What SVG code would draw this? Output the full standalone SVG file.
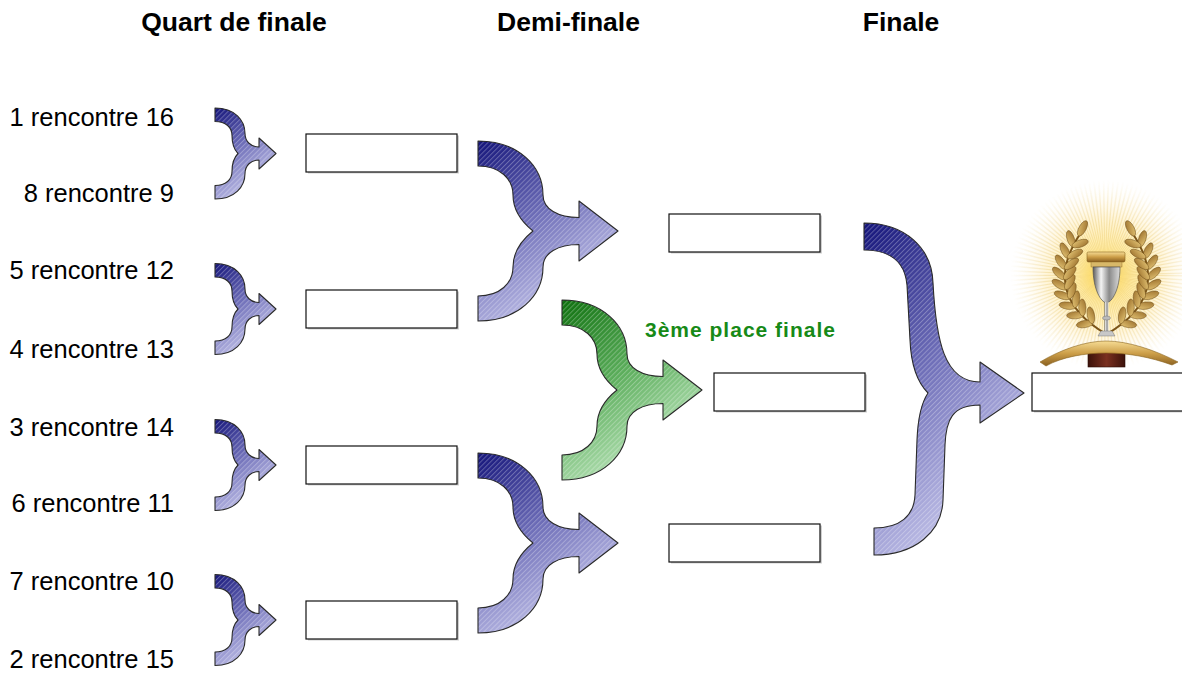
<svg xmlns="http://www.w3.org/2000/svg" xmlns:xlink="http://www.w3.org/1999/xlink" width="1182" height="673" viewBox="0 0 1182 673">
<style>
.title{font-family:"Liberation Sans",Arial,sans-serif;font-size:26.5px;font-weight:bold;fill:#000}
.lbl{font-family:"Liberation Sans",Arial,sans-serif;font-size:25.5px;fill:#000}
.third{font-family:"Liberation Sans",Arial,sans-serif;font-size:21px;font-weight:bold;fill:#178a17;letter-spacing:1px}
.box{fill:#fff;stroke:#111;stroke-width:1.2}
.shadow{fill:#cfcfcf}
.hatch{fill:url(#hatch);stroke:#2a2a2a;stroke-width:1.1;stroke-linejoin:round}
.leaf{fill:url(#leafG);stroke:#6e4c16;stroke-width:0.5}
</style>
<defs>
<linearGradient id="gBlue" x1="0" y1="0" x2="0.5" y2="1">
<stop offset="0" stop-color="#14147a"/>
<stop offset="0.5" stop-color="#6e6eb8"/>
<stop offset="1" stop-color="#c8c8ec"/>
</linearGradient>
<linearGradient id="gGreen" x1="0" y1="0" x2="0.5" y2="1">
<stop offset="0" stop-color="#0e700e"/>
<stop offset="0.5" stop-color="#5cae5c"/>
<stop offset="1" stop-color="#c2e8c2"/>
</linearGradient>
<pattern id="hatch" width="3.5" height="3.5" patternUnits="userSpaceOnUse" patternTransform="rotate(45)">
<line x1="0.5" y1="0" x2="0.5" y2="3.5" stroke="#ffffff" stroke-opacity="0.28" stroke-width="1"/>
</pattern>
<radialGradient id="glowG" cx="0.5" cy="0.5" r="0.5">
<stop offset="0" stop-color="#ffd84a"/>
<stop offset="0.3" stop-color="#ffeaa0"/>
<stop offset="0.65" stop-color="#fff6dc"/>
<stop offset="1" stop-color="#ffffff" stop-opacity="0"/>
</radialGradient>
<radialGradient id="rayMaskG" cx="0.5" cy="0.5" r="0.5">
<stop offset="0" stop-color="#fff"/>
<stop offset="0.55" stop-color="#aaa"/>
<stop offset="1" stop-color="#000"/>
</radialGradient>
<mask id="rayMask" maskUnits="userSpaceOnUse" x="1000" y="170" width="210" height="210"><circle cx="1105" cy="275" r="95" fill="url(#rayMaskG)"/></mask>
<linearGradient id="leafG" x1="0" y1="0" x2="1" y2="1">
<stop offset="0" stop-color="#e6c777"/>
<stop offset="1" stop-color="#9a6e2a"/>
</linearGradient>
<linearGradient id="silver" x1="0" y1="0" x2="1" y2="0">
<stop offset="0" stop-color="#5a5a5a"/>
<stop offset="0.3" stop-color="#f4f4f4"/>
<stop offset="0.6" stop-color="#8a8a8a"/>
<stop offset="1" stop-color="#dcdcdc"/>
</linearGradient>
<linearGradient id="goldR" x1="0" y1="0" x2="0" y2="1">
<stop offset="0" stop-color="#f6dc94"/>
<stop offset="0.5" stop-color="#cc9e48"/>
<stop offset="1" stop-color="#8a6020"/>
</linearGradient>
<linearGradient id="baseG" x1="0" y1="0" x2="1" y2="0">
<stop offset="0" stop-color="#3c120a"/>
<stop offset="0.5" stop-color="#7a3020"/>
<stop offset="1" stop-color="#3c120a"/>
</linearGradient>
<path id="small" d="M0,-45.5 C20,-45.5 30,-33 30,-20 C30,-12 36,-6.5 44,-6.5 L44,-15.5 L61,0 L44,15.5 L44,6.5 C36,6.5 30,12 30,20 C30,33 20,45.5 0,45.5 L0,32 C11,32 17,26 17,18 C17,9 20,3 23,0 C20,-3 17,-9 17,-18 C17,-26 11,-32 0,-32 Z"/>
<path id="mid" d="M0,-90 C40,-90 65,-65 65,-36 C65,-22 80,-13.5 101,-13.5 L101,-30 L140,0 L101,30 L101,13.5 C80,13.5 65,22 65,36 C65,65 40,90 0,90 L0,65 C22,65 35,52 35,36 C35,20 45,8 55,0 C45,-8 35,-20 35,-36 C35,-52 22,-65 0,-65 Z"/>
<path id="fin" d="M864,223 C905,223 932,248 933,283 C936,340 944,382 980,382 L980,362 L1024,393 L980,423 L980,405 C952,405 946,420 945,445 L943,500 C942,532 915,555 874,555 L874,528 C900,528 914,516 915,495 L917,440 C918,415 922,402 928,393 C917,382 911,365 910,340 L907,285 C905,262 890,250 864,250 Z"/>
<ellipse id="lf" class="leaf" rx="8.5" ry="3.6" cx="7.5" cy="0"/>
<g id="branch">
<path d="M1106,334 Q1040,295 1080,234" fill="none" stroke="#7a5418" stroke-width="2"/>
<use xlink:href="#lf" transform="translate(1092.2,322.7) rotate(-190)"/>
<use xlink:href="#lf" transform="translate(1092.2,322.7) rotate(-100)"/>
<use xlink:href="#lf" transform="translate(1082.6,315) rotate(-182)"/>
<use xlink:href="#lf" transform="translate(1082.6,315) rotate(-92)"/>
<use xlink:href="#lf" transform="translate(1075,306.7) rotate(-172)"/>
<use xlink:href="#lf" transform="translate(1075,306.7) rotate(-82)"/>
<use xlink:href="#lf" transform="translate(1069.4,297.8) rotate(-161)"/>
<use xlink:href="#lf" transform="translate(1069.4,297.8) rotate(-71)"/>
<use xlink:href="#lf" transform="translate(1066,288.5) rotate(-149)"/>
<use xlink:href="#lf" transform="translate(1066,288.5) rotate(-59)"/>
<use xlink:href="#lf" transform="translate(1064.6,278.6) rotate(-137)"/>
<use xlink:href="#lf" transform="translate(1064.6,278.6) rotate(-47)"/>
<use xlink:href="#lf" transform="translate(1065.4,268.3) rotate(-126)"/>
<use xlink:href="#lf" transform="translate(1065.4,268.3) rotate(-36)"/>
<use xlink:href="#lf" transform="translate(1068.2,257.4) rotate(-116)"/>
<use xlink:href="#lf" transform="translate(1068.2,257.4) rotate(-26)"/>
<use xlink:href="#lf" transform="translate(1073,245.9) rotate(-108)"/>
<use xlink:href="#lf" transform="translate(1073,245.9) rotate(-18)"/>
<use xlink:href="#lf" transform="translate(1079,235) rotate(-62)"/>
</g>
</defs>

<g id="titles">
<text class="title" x="234" y="31" text-anchor="middle">Quart de finale</text>
<text class="title" x="568.5" y="31" text-anchor="middle">Demi-finale</text>
<text class="title" x="901" y="31" text-anchor="middle">Finale</text>
</g>

<g id="teams">
<text id="t1" class="lbl" x="174" y="126" text-anchor="end">1 rencontre 16</text>
<text id="t2" class="lbl" x="174" y="202" text-anchor="end">8 rencontre 9</text>
<text id="t3" class="lbl" x="174" y="279" text-anchor="end">5 rencontre 12</text>
<text id="t4" class="lbl" x="174" y="358" text-anchor="end">4 rencontre 13</text>
<text id="t5" class="lbl" x="174" y="436" text-anchor="end">3 rencontre 14</text>
<text id="t6" class="lbl" x="174" y="512" text-anchor="end">6 rencontre 11</text>
<text id="t7" class="lbl" x="174" y="590" text-anchor="end">7 rencontre 10</text>
<text id="t8" class="lbl" x="174" y="668" text-anchor="end">2 rencontre 15</text>
</g>

<g id="qf1"><rect class="shadow" x="308" y="135.5" width="151" height="38"/><rect class="box" x="306" y="134" width="151" height="38"/></g>
<g id="qf2"><rect class="shadow" x="308" y="291.5" width="151" height="38"/><rect class="box" x="306" y="290" width="151" height="38"/></g>
<g id="qf3"><rect class="shadow" x="308" y="447.5" width="151" height="38"/><rect class="box" x="306" y="446" width="151" height="38"/></g>
<g id="qf4"><rect class="shadow" x="308" y="602.5" width="151" height="38"/><rect class="box" x="306" y="601" width="151" height="38"/></g>
<g id="sf1"><rect class="shadow" x="671" y="215.5" width="151" height="38"/><rect class="box" x="669" y="214" width="151" height="38"/></g>
<g id="sf2"><rect class="shadow" x="671" y="525.5" width="151" height="38"/><rect class="box" x="669" y="524" width="151" height="38"/></g>
<g id="third">
<text class="third" x="645" y="337">3ème place finale</text>
<rect class="shadow" x="716" y="374.5" width="151" height="38"/><rect class="box" x="714" y="373" width="151" height="38"/>
</g>

<g id="trophy">
<circle cx="1105" cy="275" r="92" fill="url(#glowG)"/>
<g mask="url(#rayMask)">
<circle cx="1105" cy="275" r="50" fill="none" stroke="#e8c870" stroke-opacity="0.6" stroke-width="90" stroke-dasharray="1 1.6"/>
</g>
<use xlink:href="#branch"/>
<use xlink:href="#branch" transform="translate(2213,0) scale(-1,1)"/>
<rect x="1087" y="252" width="38" height="10" rx="1.5" fill="url(#goldR)" stroke="#8a6420" stroke-width="0.6"/>
<rect x="1091" y="262" width="31" height="5" fill="#d8b868" stroke="#8a6420" stroke-width="0.4"/>
<path d="M1093,267 L1120,267 C1120,290 1112,302 1106.5,303 C1101,302 1093,290 1093,267 Z" fill="url(#silver)" stroke="#555" stroke-width="0.7"/>
<rect x="1104.5" y="302" width="4" height="30" fill="url(#silver)"/>
<ellipse cx="1106.5" cy="318" rx="4" ry="2" fill="#bbb" stroke="#666" stroke-width="0.4"/>
<path d="M1098,336 L1115,336 L1112,331 L1101,331 Z" fill="#c8c8c8" stroke="#666" stroke-width="0.4"/>
<rect x="1088" y="346" width="37" height="21" fill="url(#baseG)" stroke="#2a0c06" stroke-width="0.6"/>
<path d="M1040,362 C1060,350 1085,341 1106,341 C1128,341 1155,350 1178,362 L1172,365 C1150,357 1128,353 1106,353 C1085,353 1062,357 1046,366 Z" fill="url(#goldR)" stroke="#8a6420" stroke-width="0.6"/>
</g>

<g id="final">
<rect class="shadow" x="1034" y="374.5" width="152" height="38"/>
<rect class="box" x="1032" y="373" width="152" height="38"/>
</g>

<g id="connectors">
<g transform="translate(215,153.5)"><use xlink:href="#small" fill="url(#gBlue)"/><use xlink:href="#small" class="hatch"/></g>
<g transform="translate(215,309)"><use xlink:href="#small" fill="url(#gBlue)"/><use xlink:href="#small" class="hatch"/></g>
<g transform="translate(215,465)"><use xlink:href="#small" fill="url(#gBlue)"/><use xlink:href="#small" class="hatch"/></g>
<g transform="translate(215,620)"><use xlink:href="#small" fill="url(#gBlue)"/><use xlink:href="#small" class="hatch"/></g>
<g transform="translate(478,231)"><use xlink:href="#mid" fill="url(#gBlue)"/><use xlink:href="#mid" class="hatch"/></g>
<g transform="translate(478,543)"><use xlink:href="#mid" fill="url(#gBlue)"/><use xlink:href="#mid" class="hatch"/></g>
<g transform="translate(562,390)"><use xlink:href="#mid" fill="url(#gGreen)"/><use xlink:href="#mid" class="hatch"/></g>
<use xlink:href="#fin" fill="url(#gBlue)"/><use xlink:href="#fin" class="hatch"/>
</g>
</svg>
